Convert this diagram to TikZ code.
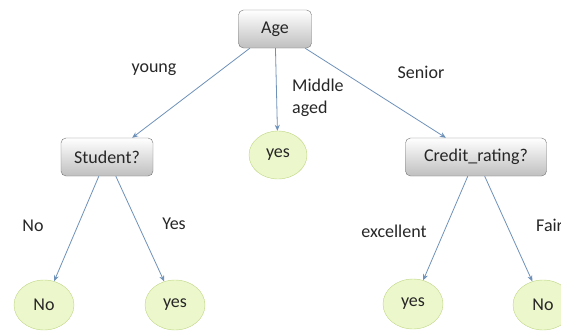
\documentclass[tikz,border=0pt]{standalone}
\usepackage{fontspec}
\setmainfont{Carlito}
\usepackage{tikz}
\usetikzlibrary{arrows.meta,shapes.geometric,graphs}
\definecolor{edgeblue}{RGB}{110,145,185}
\definecolor{leafgreen}{RGB}{236,247,204}
\definecolor{leafline}{RGB}{190,214,130}
\begin{document}
\begin{tikzpicture}[x=1pt,y=-1pt]
	\tikzstyle{every node}=[font=\fontsize{18}{22}\selectfont,text=black!85];
	\tikzstyle{test}=[draw=black!55,rectangle,rounded corners=5pt,align=center,minimum height=38pt,top color=white,bottom color=black!25,inner sep=4pt];
	\tikzstyle{leaf}=[draw=leafline,ellipse,fill=leafgreen,minimum width=60pt,minimum height=50pt,inner sep=1pt];
	\tikzstyle{lbl}=[inner sep=1pt,align=left];
	\useasboundingbox (0,0) rectangle (561,335);
	\node (age) [test,minimum width=73pt] at (275,29) {Age};
	\node (student) [test,minimum width=92pt] at (107,157) {Student?};
	\node (credit) [test,minimum width=141pt] at (476,157) {Credit\_rating?};
	\node (mid_yes) [leaf,minimum width=58pt,minimum height=48pt] at (278,155) {yes};
	\node (st_no) [leaf] at (44,305) {No};
	\node (st_yes) [leaf] at (175,305) {yes};
	\node (cr_yes) [leaf] at (413,304) {yes};
	\node (cr_no) [leaf] at (543,305) {No};
	\node (l_young) [lbl] at (154,70) {young};
	\node (l_middle) [lbl,anchor=north west] at (291,78) {Middle\\aged};
	\node (l_senior) [lbl] at (421,72) {Senior};
	\node (l_no) [lbl] at (33,226) {No};
	\node (l_yes) [lbl] at (174,224) {Yes};
	\node (l_exc) [lbl] at (394,231) {excellent};
	\node (l_fair) [lbl,anchor=west] at (535,225) {Fair};
	\graph [use existing nodes,edges={draw=edgeblue,thick,-{Stealth[length=6pt,width=5pt]}}]{
		age -> student;
		age -> mid_yes;
		age -> credit;
		student -> {st_no, st_yes};
		credit -> {cr_yes, cr_no};
	};
\end{tikzpicture}
\end{document}
